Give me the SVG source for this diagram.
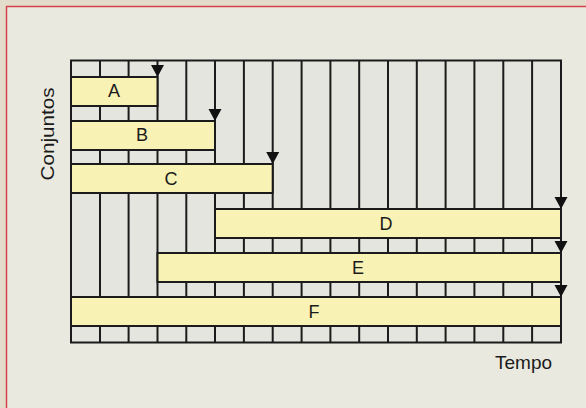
<svg xmlns="http://www.w3.org/2000/svg" width="586" height="408" viewBox="0 0 586 408">
  <style>
    .grid line { stroke: #1b1b1b; stroke-width: 2; }
    .bar { fill: #f8f2b4; stroke: #1b1b1b; stroke-width: 2; }
    .lbl { font-family: "Liberation Sans", Arial, sans-serif; font-size: 18px; fill: #1b1b1b; text-anchor: middle; }
    .axis { font-family: "Liberation Sans", Arial, sans-serif; font-size: 19px; fill: #1b1b1b; }
    .arrow { fill: #111; }
  </style>

  <!-- page and panel -->
  <rect x="0" y="0" width="586" height="408" fill="#e3dccb"/>
  <rect x="6" y="6" width="580" height="402" fill="#e9e9df"/>
  <line x1="6" y1="6.5" x2="586" y2="6.5" stroke="#d8404a" stroke-width="1.5"/>
  <line x1="6.5" y1="6" x2="6.5" y2="408" stroke="#d8404a" stroke-width="1.5"/>

  <!-- time grid: 17 columns -->
  <g id="grid" class="grid">
    <rect x="71" y="60.5" width="490" height="282" fill="#e5e5df" stroke="none"/>
    <line x1="100" y1="60.5" x2="100" y2="342.5"/>
    <line x1="128.6" y1="60.5" x2="128.6" y2="342.5"/>
    <line x1="157.5" y1="60.5" x2="157.5" y2="342.5"/>
    <line x1="186.3" y1="60.5" x2="186.3" y2="342.5"/>
    <line x1="215" y1="60.5" x2="215" y2="342.5"/>
    <line x1="243.9" y1="60.5" x2="243.9" y2="342.5"/>
    <line x1="272.7" y1="60.5" x2="272.7" y2="342.5"/>
    <line x1="301.6" y1="60.5" x2="301.6" y2="342.5"/>
    <line x1="330.4" y1="60.5" x2="330.4" y2="342.5"/>
    <line x1="359.2" y1="60.5" x2="359.2" y2="342.5"/>
    <line x1="388" y1="60.5" x2="388" y2="342.5"/>
    <line x1="416.8" y1="60.5" x2="416.8" y2="342.5"/>
    <line x1="445.6" y1="60.5" x2="445.6" y2="342.5"/>
    <line x1="474.4" y1="60.5" x2="474.4" y2="342.5"/>
    <line x1="503.3" y1="60.5" x2="503.3" y2="342.5"/>
    <line x1="532.1" y1="60.5" x2="532.1" y2="342.5"/>
    <rect x="71" y="60.5" width="490" height="282" fill="none" stroke="#1b1b1b" stroke-width="2"/>
  </g>

  <!-- sets -->
  <g id="A"><rect class="bar" x="71" y="77" width="86.5" height="29"/><text class="lbl" x="114" y="97">A</text></g>
  <g id="B"><rect class="bar" x="71" y="121" width="144" height="29"/><text class="lbl" x="142" y="141">B</text></g>
  <g id="C"><rect class="bar" x="71" y="164" width="201.7" height="29"/><text class="lbl" x="171" y="185">C</text></g>
  <g id="D"><rect class="bar" x="215" y="209" width="346" height="29"/><text class="lbl" x="386" y="230">D</text></g>
  <g id="E"><rect class="bar" x="157.5" y="253" width="403.5" height="29"/><text class="lbl" x="358" y="274">E</text></g>
  <g id="F"><rect class="bar" x="71" y="297" width="490" height="29"/><text class="lbl" x="314" y="318">F</text></g>

  <!-- end-of-set arrows -->
  <g id="connectors">
    <polygon class="arrow" points="151,65 164,65 157.5,77"/>
    <polygon class="arrow" points="208.5,109 221.5,109 215,121"/>
    <polygon class="arrow" points="266.2,152 279.2,152 272.7,164"/>
    <polygon class="arrow" points="554.5,197 567.5,197 561,209"/>
    <polygon class="arrow" points="554.5,241 567.5,241 561,253"/>
    <polygon class="arrow" points="554.5,285 567.5,285 561,297"/>
  </g>

  <!-- axis titles -->
  <text class="axis" transform="translate(54,134) rotate(-90)" text-anchor="middle" textLength="93" lengthAdjust="spacingAndGlyphs">Conjuntos</text>
  <text class="axis" x="495" y="369">Tempo</text>
</svg>
